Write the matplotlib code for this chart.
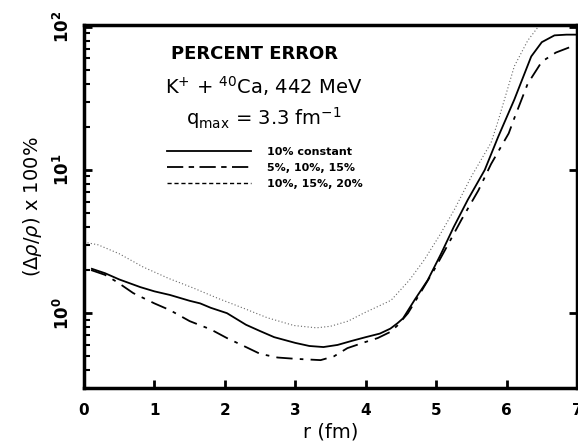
import matplotlib
matplotlib.use("Agg")
import matplotlib.pyplot as plt
from matplotlib.lines import Line2D
from matplotlib.ticker import LogLocator, NullFormatter

# 10% constant (solid)
r_const = [0.1, 0.3, 0.5, 0.8, 1.0, 1.22, 1.5, 1.65, 1.8, 2.03, 2.3, 2.5, 2.7, 3.0,
           3.2, 3.4, 3.6, 3.8, 4.0, 4.2, 4.35, 4.45, 4.53, 4.7, 4.88, 5.07, 5.25,
           5.45, 5.69, 5.88, 6.11, 6.35, 6.5, 6.68, 6.85, 7.0]
err_const = [2.05, 1.9, 1.72, 1.52, 1.42, 1.34, 1.22, 1.17, 1.09, 1.0, 0.83, 0.75,
             0.68, 0.62, 0.59, 0.58, 0.60, 0.64, 0.68, 0.72, 0.78, 0.85, 0.92, 1.25,
             1.7, 2.6, 4.0, 6.2, 10.0, 17.0, 31.0, 62.0, 78.0, 87.0, 88.0, 88.0]

# 5%, 10%, 15% (dash-dot)
r_low = [0.1, 0.3, 0.47, 0.7, 1.0, 1.22, 1.5, 1.8, 2.03, 2.3, 2.5, 2.75, 3.0, 3.36,
         3.55, 3.74, 4.0, 4.17, 4.35, 4.45, 4.6, 4.8, 4.97, 5.15, 5.36, 5.6, 5.78,
         6.03, 6.11, 6.3, 6.5, 6.7, 6.9, 7.0]
err_low = [2.0, 1.85, 1.65, 1.38, 1.17, 1.05, 0.88, 0.77, 0.67, 0.58, 0.52, 0.49,
           0.48, 0.47, 0.50, 0.57, 0.63, 0.67, 0.74, 0.82, 1.0, 1.45, 2.0, 2.9,
           4.5, 7.2, 11.0, 18.0, 23.0, 40.0, 57.0, 66.0, 72.0, 74.0]

# 10%, 15%, 20% (fine dashes)
r_high = [0.05, 0.2, 0.5, 0.84, 1.2, 1.55, 1.9, 2.27, 2.6, 2.98, 3.3, 3.5, 3.75,
          3.97, 4.15, 4.36, 4.62, 4.83, 5.05, 5.26, 5.5, 5.78, 5.88, 6.11, 6.3,
          6.47, 6.55]
err_high = [3.1, 3.0, 2.6, 2.1, 1.75, 1.5, 1.27, 1.08, 0.93, 0.82, 0.79, 0.81, 0.88,
            1.0, 1.1, 1.23, 1.7, 2.35, 3.5, 5.3, 9.0, 15.5, 22.0, 53.0, 80.0,
            103.0, 112.0]

legend_labels = ["10% constant", "5%, 10%, 15%", "10%, 15%, 20%"]

fig = plt.figure(figsize=(5.78, 4.44), dpi=100)
ax = fig.add_axes([0.1453, 0.126, 0.853, 0.818])

ax.plot(r_const, err_const, color="black", lw=1.3, solid_capstyle="butt")
ax.plot(r_low, err_low, color="black", lw=1.3, dashes=(9, 4, 2, 4))
ax.plot(r_high, err_high, color="0.4", lw=0.8, dashes=(1, 2))

ax.set_yscale("log")
ax.set_xlim(0, 7)
ax.set_ylim(0.3, 103)

ax.set_xticks(range(8))
ax.set_yticks([1, 10, 100])
ax.set_yticklabels([r"$\mathbf{10^{0}}$", r"$\mathbf{10^{1}}$", r"$\mathbf{10^{2}}$"],
                   rotation=90, va="center", fontsize=12)
ax.yaxis.set_minor_locator(LogLocator(base=10, subs=range(2, 10)))
ax.yaxis.set_minor_formatter(NullFormatter())
for lbl in ax.get_xticklabels():
    lbl.set_fontweight("bold")
    lbl.set_fontsize(11)

ax.tick_params(axis="x", which="major", pad=11)
ax.tick_params(axis="both", which="major", direction="in", length=6, width=2,
               right=True, top=False)
ax.tick_params(axis="y", which="major", pad=8)
ax.tick_params(axis="y", which="minor", direction="in", length=4, width=1.5,
               right=False)
for sp in ax.spines.values():
    sp.set_linewidth(2.5)

ax.set_xlabel("r (fm)", fontsize=14, labelpad=3)
ax.set_ylabel(r"$(\Delta\rho/\rho)$ x 100%", fontsize=14, labelpad=6)

# annotation text block
ax.text(2.42, 64, "PERCENT ERROR", ha="center", va="center", fontsize=13,
        fontweight="bold")
ax.text(2.55, 38.5, r"K$^{+}$ + $^{40}$Ca, 442 MeV", ha="center", va="center",
        fontsize=14)
ax.text(2.55, 23, r"q$_{\mathrm{max}}$ = 3.3 fm$^{-1}$", ha="center", va="center",
        fontsize=14)

handles = [Line2D([], [], color="black", lw=1.3),
           Line2D([], [], color="black", lw=1.3, dashes=(9, 3, 3, 3)),
           Line2D([], [], color="black", lw=1.0, dashes=(3, 2))]
leg = ax.legend(handles, legend_labels, loc="upper left",
                bbox_to_anchor=(0.168, 0.665), frameon=False, handlelength=7.6,
                handletextpad=1.4, labelspacing=0.55, borderpad=0,
                borderaxespad=0, prop={"size": 8, "weight": "bold"})

fig.savefig("out.png", dpi=100)
